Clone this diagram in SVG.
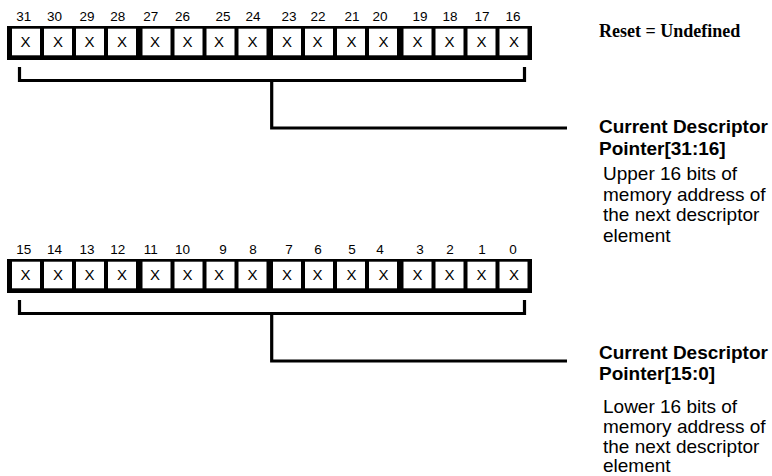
<svg xmlns="http://www.w3.org/2000/svg" width="772" height="476" viewBox="0 0 772 476">
<style>
.reg{fill:#000}
.cell{fill:#fff}
.x{font-family:"Liberation Sans",Arial,sans-serif;font-size:15px;text-anchor:middle;fill:#000}
.num{font-family:"Liberation Sans",Arial,sans-serif;font-size:13.5px;text-anchor:middle;fill:#000}
.title{font-family:"Liberation Sans",Arial,sans-serif;font-size:19px;font-weight:bold;fill:#000}
.desc{font-family:"Liberation Sans",Arial,sans-serif;font-size:19px;fill:#000}
.reset{font-family:"Liberation Serif","Times New Roman",serif;font-size:18px;font-weight:bold;fill:#000}
.ln{fill:none;stroke:#000;stroke-width:3.2}
</style>
<defs>
<g id="cells">
<rect class="reg" x="7" y="26" width="525" height="34"/>
<rect class="cell" x="12" y="28.7" width="28" height="26.6"/>
<rect class="cell" x="44" y="28.7" width="28" height="26.6"/>
<rect class="cell" x="76" y="28.7" width="28" height="26.6"/>
<rect class="cell" x="108" y="28.7" width="28" height="26.6"/>
<rect class="cell" x="142.5" y="28.7" width="28" height="26.6"/>
<rect class="cell" x="174.5" y="28.7" width="28" height="26.6"/>
<rect class="cell" x="206.5" y="28.7" width="28" height="26.6"/>
<rect class="cell" x="238.5" y="28.7" width="28" height="26.6"/>
<rect class="cell" x="273" y="28.7" width="28" height="26.6"/>
<rect class="cell" x="305" y="28.7" width="28" height="26.6"/>
<rect class="cell" x="337" y="28.7" width="28" height="26.6"/>
<rect class="cell" x="369" y="28.7" width="28" height="26.6"/>
<rect class="cell" x="403.5" y="28.7" width="28" height="26.6"/>
<rect class="cell" x="435.5" y="28.7" width="28" height="26.6"/>
<rect class="cell" x="467.5" y="28.7" width="28" height="26.6"/>
<rect class="cell" x="499.5" y="28.7" width="28" height="26.6"/>
<text class="x" y="47"><tspan x="25.5">X</tspan><tspan x="58">X</tspan><tspan x="89.5">X</tspan><tspan x="122">X</tspan><tspan x="155">X</tspan><tspan x="187.5">X</tspan><tspan x="219">X</tspan><tspan x="252.5">X</tspan><tspan x="287">X</tspan><tspan x="317.5">X</tspan><tspan x="351.5">X</tspan><tspan x="383.5">X</tspan><tspan x="417.5">X</tspan><tspan x="449.5">X</tspan><tspan x="481.5">X</tspan><tspan x="514">X</tspan></text>
</g>
</defs>
<g id="register-upper">
<text class="num" y="20.5"><tspan x="23.7">31</tspan><tspan x="54.5">30</tspan><tspan x="87">29</tspan><tspan x="117.8">28</tspan><tspan x="150.8">27</tspan><tspan x="182.5">26</tspan><tspan x="223">25</tspan><tspan x="253">24</tspan><tspan x="289">23</tspan><tspan x="318">22</tspan><tspan x="352">21</tspan><tspan x="380">20</tspan><tspan x="420">19</tspan><tspan x="450">18</tspan><tspan x="482">17</tspan><tspan x="513">16</tspan></text>
<use href="#cells"/>
</g>
<g id="register-lower">
<text class="num" y="253.5"><tspan x="23.7">15</tspan><tspan x="54.5">14</tspan><tspan x="87">13</tspan><tspan x="117.8">12</tspan><tspan x="150.8">11</tspan><tspan x="182.5">10</tspan><tspan x="223">9</tspan><tspan x="253">8</tspan><tspan x="289">7</tspan><tspan x="318">6</tspan><tspan x="352">5</tspan><tspan x="380">4</tspan><tspan x="420">3</tspan><tspan x="450">2</tspan><tspan x="482">1</tspan><tspan x="513">0</tspan></text>
<use href="#cells" transform="translate(0,233)"/>
</g>
<g id="reset-note">
<text class="reset" x="599" y="37">Reset = Undefined</text>
</g>
<g id="field-upper">
<text class="title" x="599" y="133">Current Descriptor</text>
<text class="title" x="599" y="155">Pointer[31:16]</text>
<text class="desc" x="603" y="180">Upper 16 bits of</text>
<text class="desc" x="603" y="200.5">memory address of</text>
<text class="desc" x="603" y="221">the next descriptor</text>
<text class="desc" x="603" y="241.5">element</text>
</g>
<g id="field-lower">
<text class="title" x="599" y="359">Current Descriptor</text>
<text class="title" x="599" y="380">Pointer[15:0]</text>
<text class="desc" x="603" y="413">Lower 16 bits of</text>
<text class="desc" x="603" y="433">memory address of</text>
<text class="desc" x="603" y="452.5">the next descriptor</text>
<text class="desc" x="603" y="472">element</text>
</g>
<g id="connectors">
<path class="ln" d="M19.5 67 V80.5 H524.5 V67"/>
<path class="ln" d="M271.7 80.5 V128 H567"/>
<path class="ln" d="M19.5 300 V313.5 H524.5 V300"/>
<path class="ln" d="M271.7 313.5 V361 H567"/>
</g>
</svg>
